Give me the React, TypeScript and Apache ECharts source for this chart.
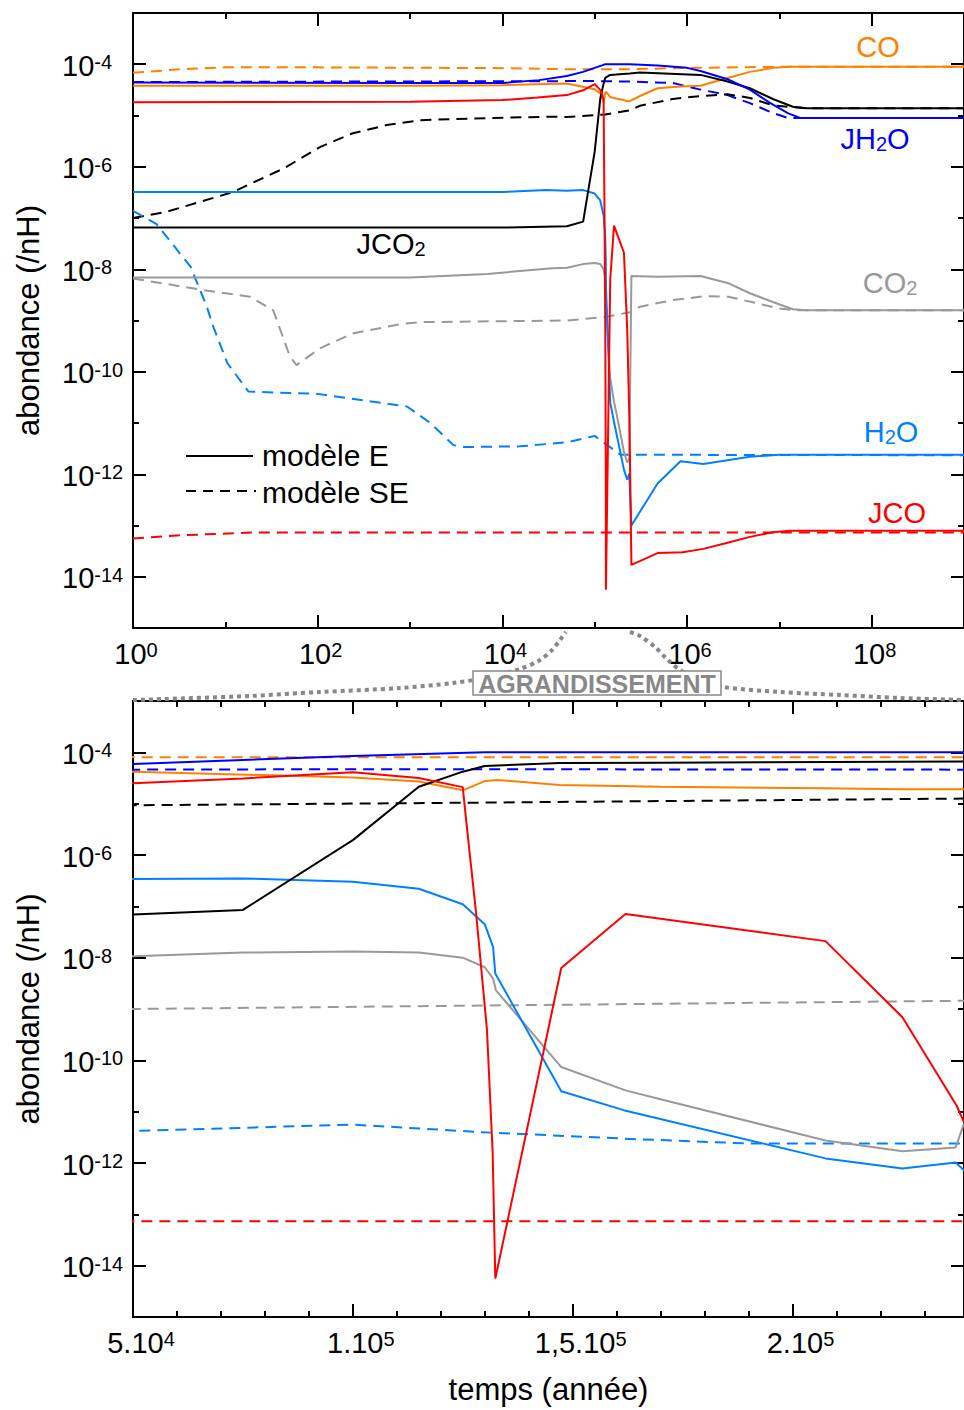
import React, { useEffect, useRef } from "react";
import * as echarts from "echarts";

const FONT = '"Liberation Sans", Arial, Helvetica, sans-serif';

// ---- data : [temps (année), abondance (/nH)] ----
const CO_E: [number, number][] = [[1,3.8e-5],[1e3,3.8e-5],[1e4,3.9e-5],[3e4,4.1e-5],[5e4,4.2e-5],[1e5,3.24e-5],[1.15e5,2.7e-5],[1.25e5,1.82e-5],[1.3e5,2.75e-5],[1.33e5,2.9e-5],[1.47e5,2.3e-5],[1.7e5,2.14e-5],[2.07e5,2.0e-5],[2.25e5,1.9e-5],[2.4e5,1.9e-5],[3.1e5,2.4e-5],[4.8e5,3.4e-5],[8.5e5,3.7e-5],[1.4e6,3.8e-5],[2.75e6,5.4e-5],[4.8e6,7.1e-5],[8.5e6,8.5e-5],[1.3e7,8.9e-5],[1e9,8.9e-5]];
const CO_SE: [number, number][] = [[1,6.8e-5],[3,7.9e-5],[10,8.7e-5],[100,8.7e-5],[1e4,8.4e-5],[5e4,8.0e-5],[2.4e5,8.0e-5],[1e6,8.5e-5],[1e7,8.9e-5],[1e9,8.9e-5]];
const JH2O_E: [number, number][] = [[1,4.4e-5],[1e3,4.3e-5],[1e4,4.3e-5],[2.5e4,4.9e-5],[5e4,5.9e-5],[7.5e4,7.1e-5],[1e5,8.5e-5],[1.2e5,9.5e-5],[1.3e5,1.0e-4],[2.4e5,1.0e-4],[4.8e5,9.5e-5],[1e6,8.5e-5],[1.4e6,7.4e-5],[2.75e6,5.1e-5],[4.8e6,3.2e-5],[8e6,1.74e-5],[1.25e7,1.1e-5],[1.7e7,8.9e-6],[1e9,8.9e-6]];
const JH2O_SE: [number, number][] = [[1,4.5e-5],[1e5,4.7e-5],[2.4e5,4.6e-5],[7e5,4.3e-5],[1.4e6,3.2e-5],[2.75e6,2.5e-5],[4.8e6,1.74e-5],[8.5e6,1.12e-5],[1.25e7,8.9e-6],[1e9,8.9e-6]];
const JCO_E: [number, number][] = [[1,1.82e-5],[1e3,1.86e-5],[1e4,2.0e-5],[2.4e4,2.24e-5],[5e4,2.5e-5],[7.5e4,3.1e-5],[1e5,4.1e-5],[1.15e5,3.16e-5],[1.25e5,2.1e-5],[1.26e5,3.1e-6],[1.28e5,7.9e-8],[1.305e5,4.0e-10],[1.318e5,1.6e-12],[1.324e5,5.6e-15],[1.474e5,6.3e-9],[1.62e5,7.1e-8],[2.075e5,2.1e-8],[2.25e5,6.9e-10],[2.373e5,1.32e-11],[2.39e5,6.3e-12],[2.5e5,1.7e-14],[4.8e5,2.9e-14],[9e5,3.0e-14],[1.5e6,3.5e-14],[2.75e6,4.6e-14],[4.8e6,6.0e-14],[8.5e6,7.4e-14],[1.3e7,7.9e-14],[1e9,7.9e-14]];
const JCO_SE: [number, number][] = [[1,5.6e-14],[3,6.4e-14],[20,7.3e-14],[1e9,7.3e-14]];
const H2O_E: [number, number][] = [[1,3.2e-7],[1e4,3.2e-7],[3e4,3.5e-7],[5e4,3.4e-7],[7.5e4,3.5e-7],[1e5,3.0e-7],[1.15e5,2.2e-7],[1.25e5,1.1e-7],[1.3e5,4.5e-8],[1.319e5,1.6e-8],[1.324e5,4.9e-9],[1.474e5,2.5e-11],[1.616e5,1.07e-11],[2.075e5,1.23e-12],[2.25e5,7.8e-13],[2.371e5,1.02e-12],[2.39e5,7.2e-13],[2.5e5,1.0e-13],[4.8e5,6.6e-13],[8.5e5,1.8e-12],[1.5e6,1.58e-12],[4.8e6,2.2e-12],[1e7,2.4e-12],[1e9,2.4e-12]];
const H2O_SE: [number, number][] = [[1,1.38e-7],[1.8,7.6e-8],[4.2,1.12e-8],[6.3,1.86e-9],[7.4,7.6e-10],[10.5,1.48e-10],[17.8,4.1e-11],[100,3.7e-11],[930,2.1e-11],[1660,1.0e-11],[2950,3.7e-12],[3800,3.4e-12],[1.55e4,3.5e-12],[5e4,4.2e-12],[1e5,5.6e-12],[1.29e5,4.0e-12],[1.65e5,2.9e-12],[1.9e5,2.4e-12],[1e9,2.35e-12]];
const JCO2_E: [number, number][] = [[1,6.5e-8],[1e4,6.5e-8],[5e4,6.9e-8],[7.5e4,8.5e-8],[1e5,1.95e-6],[1.15e5,2.14e-5],[1.25e5,4.2e-5],[1.3e5,5.4e-5],[1.47e5,6.2e-5],[1.7e5,6.3e-5],[2.4e5,6.6e-5],[3.1e5,6.9e-5],[1.4e6,6.2e-5],[2.75e6,4.6e-5],[4.8e6,3.4e-5],[8.5e6,2.1e-5],[1.4e7,1.48e-5],[2e7,1.38e-5],[1e9,1.38e-5]];
const JCO2_SE: [number, number][] = [[1,1.0e-7],[2.3,1.32e-7],[12,3.2e-7],[43,9.3e-7],[107,2.45e-6],[240,4.5e-6],[560,6.5e-6],[1290,8.1e-6],[6900,8.9e-6],[3.5e4,9.5e-6],[5e4,9.3e-6],[1.3e5,1.05e-5],[2.4e5,1.26e-5],[3.1e5,1.55e-5],[7e5,2.1e-5],[1.4e6,2.4e-5],[2.75e6,2.6e-5],[4.8e6,2.2e-5],[8.5e6,1.58e-5],[1.4e7,1.45e-5],[2e7,1.38e-5],[1e9,1.38e-5]];
const CO2_E: [number, number][] = [[1,6.9e-9],[1e3,6.9e-9],[6900,8.1e-9],[3.5e4,1.05e-8],[5e4,1.07e-8],[7.5e4,1.26e-8],[1e5,1.32e-8],[1.15e5,1.26e-8],[1.25e5,1.0e-8],[1.3e5,6.5e-9],[1.319e5,3.9e-9],[1.3255e5,2.3e-9],[1.474e5,7.4e-11],[1.62e5,2.6e-11],[1.7e5,1.74e-11],[2.075e5,2.75e-12],[2.25e5,1.7e-12],[2.371e5,2.0e-12],[2.39e5,5.9e-12],[2.5e5,7.4e-9],[4.8e5,7.1e-9],[1.4e6,7.4e-9],[2.75e6,5.4e-9],[4.8e6,3.4e-9],[8.5e6,2.3e-9],[1.4e7,1.66e-9],[2e7,1.58e-9],[1e9,1.58e-9]];
const CO2_SE: [number, number][] = [[1,6.6e-9],[5.4,4.0e-9],[18.6,2.9e-9],[33,1.58e-9],[50,2.0e-10],[59,1.35e-10],[107,2.9e-10],[240,5.6e-10],[850,8.7e-10],[1300,9.3e-10],[5e4,1.0e-9],[1.3e5,1.17e-9],[2.4e5,1.45e-9],[3.1e5,1.86e-9],[7e5,2.5e-9],[1.6e6,3.0e-9],[2.8e6,2.9e-9],[5e6,2.3e-9],[9.5e6,1.74e-9],[1.5e7,1.58e-9],[1e9,1.58e-9]];

// ---- ticks ----
const Y_MAJOR = [1e-14, 1e-12, 1e-10, 1e-8, 1e-6, 1e-4];
const Y_MINOR = [1e-13, 1e-11, 1e-9, 1e-7, 1e-5];
const X_TOP_MAJOR = [1, 1e2, 1e4, 1e6, 1e8];
const X_TOP_MINOR = [10, 1e3, 1e5, 1e7];
const X_ZOOM_MAJOR = [50000, 100000, 150000, 200000];
const X_ZOOM_MANT = ["5.10", "1.10", "1,5.10", "2.10"];
const X_ZOOM_EXP = ["4", "5", "5", "5"];
const X_ZOOM_MINOR = [60000, 70000, 80000, 90000, 110000, 120000, 130000, 140000, 160000, 170000, 180000, 190000, 210000, 220000, 230000];

const ORANGE = "#FF8000";
const BLUE = "#0000FF";
const LBLUE = "#0080FF";
const RED = "#FF0000";
const BLACK = "#000000";
const GRAY = "#999999";

const SERIES = [
  { data: CO_SE, color: ORANGE, dash: true },
  { data: JH2O_SE, color: BLUE, dash: true },
  { data: JCO2_SE, color: BLACK, dash: true },
  { data: CO2_SE, color: GRAY, dash: true },
  { data: H2O_SE, color: LBLUE, dash: true },
  { data: JCO_SE, color: RED, dash: true },
  { data: CO2_E, color: GRAY, dash: false },
  { data: H2O_E, color: LBLUE, dash: false },
  { data: CO_E, color: ORANGE, dash: false },
  { data: JCO2_E, color: BLACK, dash: false },
  { data: JH2O_E, color: BLUE, dash: false },
  { data: JCO_E, color: RED, dash: false },
];

const RICH = {
  b: { fontSize: 29, fontFamily: FONT, color: "#000", lineHeight: 28, verticalAlign: "bottom" },
  s: { fontSize: 20, fontFamily: FONT, color: "#000", lineHeight: 12, verticalAlign: "top" },
};

const pow10 = (v: number) => `{b|10}{s|${Math.round(Math.log10(v))}}`;

const LINE = { show: true, onZero: false, lineStyle: { color: "#000", width: 2 } };
const NOLINE = { show: false, onZero: false };
const tick = (values: number[], length: number) => ({
  show: true, inside: true, length, customValues: values, lineStyle: { color: "#000", width: 2 },
});
const NOLABEL = { show: false };
const NOSPLIT = { show: false };

function makeAxes(grid: number, base: any, major: number[], minor: number[], sides: [string, string], label: any, extra: any) {
  return [
    { ...base, gridIndex: grid, position: sides[0], axisLine: LINE, axisTick: tick(major, 13), axisLabel: label, splitLine: NOSPLIT, ...extra },
    { ...base, gridIndex: grid, position: sides[0], axisLine: NOLINE, axisTick: tick(minor, 6), axisLabel: NOLABEL, splitLine: NOSPLIT },
    { ...base, gridIndex: grid, position: sides[1], axisLine: LINE, axisTick: tick(major, 13), axisLabel: NOLABEL, splitLine: NOSPLIT },
    { ...base, gridIndex: grid, position: sides[1], axisLine: NOLINE, axisTick: tick(minor, 6), axisLabel: NOLABEL, splitLine: NOSPLIT },
  ];
}

const yLabel = {
  show: true, customValues: Y_MAJOR, formatter: pow10, rich: RICH, align: "left", margin: 71, padding: [4, 0, 0, 0],
};
const yName = {
  name: "abondance (/nH)", nameLocation: "middle", nameGap: 89, nameRotate: 90,
  nameTextStyle: { fontSize: 31, fontFamily: FONT, color: "#000" },
};
const yBase = { type: "log", logBase: 10, min: 1e-15, max: 1e-3 };

function buildOption() {
  const xAxis = [
    ...makeAxes(0, { type: "log", logBase: 10, min: 1, max: 1e9 }, X_TOP_MAJOR, X_TOP_MINOR, ["bottom", "top"],
      { show: true, customValues: X_TOP_MAJOR, formatter: pow10, rich: RICH, margin: 12, padding: [0, 0, 0, 6] }, {}),
    ...makeAxes(1, { type: "value", min: 50000, max: 239000 }, X_ZOOM_MAJOR, X_ZOOM_MINOR, ["bottom", "top"],
      {
        show: true, customValues: X_ZOOM_MAJOR, rich: RICH, margin: 12, padding: [0, 0, 0, 16],
        formatter: (v: number) => {
          const i = X_ZOOM_MAJOR.indexOf(v);
          return i < 0 ? "" : `{b|${X_ZOOM_MANT[i]}}{s|${X_ZOOM_EXP[i]}}`;
        },
      },
      {
        name: "temps (année)", nameLocation: "middle", nameGap: 57,
        nameTextStyle: { fontSize: 31, fontFamily: FONT, color: "#000" },
      }),
  ];
  const yAxis = [
    ...makeAxes(0, yBase, Y_MAJOR, Y_MINOR, ["left", "right"], yLabel, yName),
    ...makeAxes(1, yBase, Y_MAJOR, Y_MINOR, ["left", "right"], yLabel, yName),
  ];
  const mk = (s: any, g: number) => ({
    type: "line",
    xAxisIndex: g * 4,
    yAxisIndex: g * 4,
    data: s.data,
    showSymbol: false,
    symbol: "none",
    silent: true,
    clip: true,
    lineStyle: { color: s.color, width: 2, type: s.dash ? [11, 7] : "solid" },
  });
  const series = [...SERIES.map((s) => mk(s, 0)), ...SERIES.map((s) => mk(s, 1))];

  const subRich = (color: string) => ({
    n: { fontSize: 29, fontFamily: FONT, fill: color, color, lineHeight: 30, verticalAlign: "top" },
    d: { fontSize: 20, fontFamily: FONT, fill: color, color, lineHeight: 13, verticalAlign: "bottom" },
  });
  const label = (x: number, y: number, text: string, color: string) => ({
    type: "text", x, y, z: 20,
    style: { text, fill: color, fontSize: 29, fontFamily: FONT, align: "center", verticalAlign: "middle", rich: subRich(color) },
  });
  const DOT = { stroke: "#888888", lineWidth: 4, lineDash: [4, 4], fill: null };

  const graphic = [
    // legend
    { type: "line", z: 20, shape: { x1: 186, y1: 456, x2: 253, y2: 456 }, style: { stroke: "#000", lineWidth: 2 } },
    { type: "text", z: 20, x: 262, y: 455, style: { text: "modèle E", fill: "#000", fontSize: 30, fontFamily: FONT, align: "left", verticalAlign: "middle" } },
    { type: "line", z: 20, shape: { x1: 186, y1: 491, x2: 256, y2: 491 }, style: { stroke: "#000", lineWidth: 2, lineDash: [10, 7] } },
    { type: "text", z: 20, x: 262, y: 492, style: { text: "modèle SE", fill: "#000", fontSize: 30, fontFamily: FONT, align: "left", verticalAlign: "middle" } },
    // species labels
    label(878, 47, "{n|CO}", ORANGE),
    label(875, 139, "{n|JH}{d|2}{n|O}", BLUE),
    label(391, 244, "{n|JCO}{d|2}", BLACK),
    label(890, 283, "{n|CO}{d|2}", GRAY),
    label(891, 432, "{n|H}{d|2}{n|O}", LBLUE),
    label(897, 513, "{n|JCO}", RED),
    // zoom connectors
    {
      type: "polyline", z: 5,
      shape: { points: [[133, 700], [250, 696], [320, 692], [400, 688], [453, 683], [490, 677], [520, 669], [540, 660], [552, 650], [560, 640], [566, 632]], smooth: 0.3 },
      style: DOT,
    },
    {
      type: "polyline", z: 5,
      shape: { points: [[630, 632], [640, 636], [655, 647], [668, 660], [680, 670], [700, 680], [723, 687], [780, 692], [840, 695], [900, 698], [964, 700]], smooth: 0.3 },
      style: DOT,
    },
    { type: "rect", z: 10, shape: { x: 473, y: 671, width: 248, height: 24 }, style: { fill: "#fff", stroke: "#888888", lineWidth: 1.5 } },
    { type: "text", z: 11, x: 597, y: 684, style: { text: "AGRANDISSEMENT", fill: "#888888", fontSize: 25, lineHeight: 22, fontWeight: "bold", fontFamily: FONT, align: "center", verticalAlign: "middle" } },
  ];

  return {
    animation: false,
    backgroundColor: "#ffffff",
    textStyle: { fontFamily: FONT },
    grid: [
      { left: 133, top: 13, right: -1, height: 615 },
      { left: 133, top: 701, right: -1, height: 616 },
    ],
    xAxis,
    yAxis,
    series,
    graphic,
  };
}

export default function App() {
  const ref = useRef<HTMLDivElement>(null);
  useEffect(() => {
    document.body.style.margin = "0";
    document.body.style.overflow = "hidden";
    const chart = echarts.init(ref.current!, null, { renderer: "svg" });
    chart.setOption(buildOption() as any);
    return () => chart.dispose();
  }, []);
  return <div ref={ref} style={{ width: 964, height: 1410 }} />;
}
